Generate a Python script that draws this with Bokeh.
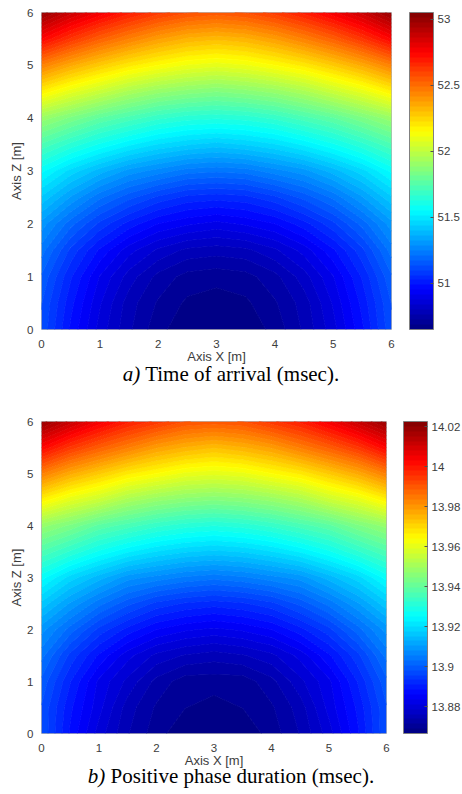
import numpy as np
from bokeh.plotting import figure
from bokeh.models import Range1d, FixedTicker, ColorBar, LinearColorMapper, Div
from bokeh.layouts import column
from bokeh.embed import file_html
from bokeh.resources import INLINE

# grid nodes (m)
x_nodes = [0.0, 0.5, 1.0, 1.5, 2.0, 2.5, 3.0, 3.5, 4.0, 4.5, 5.0, 5.5, 6.0]
z_nodes = [0.0, 0.5, 1.0, 1.5, 2.0, 2.5, 3.0, 3.5, 4.0, 4.5, 5.0, 5.5, 6.0]

# a) time of arrival (msec), rows: z = 0 .. 6
toa = [
    [51.13, 50.98, 50.86, 50.77, 50.70, 50.66, 50.65, 50.66, 50.70, 50.77, 50.86, 50.98, 51.13],
    [51.14, 51.00, 50.88, 50.78, 50.72, 50.68, 50.67, 50.68, 50.72, 50.78, 50.88, 51.00, 51.14],
    [51.17, 51.03, 50.91, 50.82, 50.75, 50.71, 50.70, 50.71, 50.75, 50.82, 50.91, 51.03, 51.17],
    [51.23, 51.09, 50.98, 50.89, 50.83, 50.79, 50.78, 50.79, 50.83, 50.89, 50.98, 51.09, 51.23],
    [51.31, 51.19, 51.09, 51.01, 50.95, 50.92, 50.90, 50.92, 50.95, 51.01, 51.09, 51.19, 51.31],
    [51.43, 51.32, 51.22, 51.15, 51.09, 51.05, 51.04, 51.05, 51.09, 51.15, 51.22, 51.32, 51.43],
    [51.56, 51.46, 51.38, 51.31, 51.27, 51.23, 51.22, 51.23, 51.27, 51.31, 51.38, 51.46, 51.56],
    [51.73, 51.65, 51.58, 51.52, 51.47, 51.44, 51.42, 51.44, 51.47, 51.52, 51.58, 51.65, 51.73],
    [51.91, 51.84, 51.77, 51.72, 51.67, 51.64, 51.63, 51.64, 51.67, 51.72, 51.77, 51.84, 51.91],
    [52.18, 52.09, 52.02, 51.95, 51.90, 51.87, 51.85, 51.87, 51.90, 51.95, 52.02, 52.09, 52.18],
    [52.45, 52.35, 52.27, 52.20, 52.15, 52.11, 52.09, 52.11, 52.15, 52.20, 52.27, 52.35, 52.45],
    [52.75, 52.63, 52.53, 52.45, 52.38, 52.33, 52.31, 52.33, 52.38, 52.45, 52.53, 52.63, 52.75],
    [53.00, 52.88, 52.78, 52.69, 52.62, 52.57, 52.55, 52.57, 52.62, 52.69, 52.78, 52.88, 53.00],
]

# b) positive phase duration (msec), rows: z = 0 .. 6
ppd = [
    [13.898, 13.888, 13.880, 13.874, 13.870, 13.867, 13.867, 13.867, 13.870, 13.874, 13.880, 13.888, 13.898],
    [13.898, 13.889, 13.882, 13.875, 13.871, 13.869, 13.868, 13.869, 13.871, 13.875, 13.882, 13.889, 13.898],
    [13.900, 13.891, 13.883, 13.878, 13.873, 13.870, 13.870, 13.870, 13.873, 13.878, 13.883, 13.891, 13.900],
    [13.904, 13.895, 13.888, 13.882, 13.878, 13.876, 13.875, 13.876, 13.878, 13.882, 13.888, 13.895, 13.904],
    [13.909, 13.902, 13.895, 13.890, 13.886, 13.884, 13.883, 13.884, 13.886, 13.890, 13.895, 13.902, 13.909],
    [13.917, 13.910, 13.904, 13.899, 13.895, 13.893, 13.892, 13.893, 13.895, 13.899, 13.904, 13.910, 13.917],
    [13.926, 13.919, 13.914, 13.909, 13.907, 13.905, 13.904, 13.905, 13.907, 13.909, 13.914, 13.919, 13.926],
    [13.937, 13.932, 13.927, 13.923, 13.920, 13.918, 13.917, 13.918, 13.920, 13.923, 13.927, 13.932, 13.937],
    [13.948, 13.944, 13.939, 13.936, 13.933, 13.931, 13.930, 13.931, 13.933, 13.936, 13.939, 13.944, 13.948],
    [13.966, 13.960, 13.956, 13.951, 13.948, 13.946, 13.945, 13.946, 13.948, 13.951, 13.956, 13.960, 13.966],
    [13.984, 13.977, 13.972, 13.967, 13.964, 13.961, 13.960, 13.961, 13.964, 13.967, 13.972, 13.977, 13.984],
    [14.003, 13.995, 13.989, 13.984, 13.979, 13.976, 13.974, 13.976, 13.979, 13.984, 13.989, 13.995, 14.003],
    [14.019, 14.012, 14.005, 13.999, 13.995, 13.991, 13.990, 13.991, 13.995, 13.999, 14.005, 14.012, 14.019],
]

toa_range = [50.65, 53.05]
ppd_range = [13.8665, 14.0225]
toa_ticks = [51.0, 51.5, 52.0, 52.5, 53.0]
toa_tick_labels = ["51", "51.5", "52", "52.5", "53"]
ppd_ticks = [13.88, 13.9, 13.92, 13.94, 13.96, 13.98, 14.0, 14.02]
ppd_tick_labels = ["13.88", "13.9", "13.92", "13.94", "13.96", "13.98", "14", "14.02"]
axis_ticks = [0, 1, 2, 3, 4, 5, 6]
caption_a = ("a)", "Time of arrival (msec).")
caption_b = ("b)", "Positive phase duration (msec).")


def jet_at(t):
    def c(v):
        return int(round(255 * min(max(v, 0.0), 1.0)))
    r = 1.5 - abs(4 * t - 3)
    g = 1.5 - abs(4 * t - 2)
    b = 1.5 - abs(4 * t - 1)
    return "#%02x%02x%02x" % (c(r), c(g), c(b))


N = 64
band_colors = [jet_at((i + 0.5) / N) for i in range(N)]
edge_colors = [jet_at(i / N) for i in range(N + 1)]

TXT = "#3c3c3c"
W = 462
LEFT = 41


def make_panel(values, vrange, cticks, clabels, frame_w, frame_h, top, bottom, bar_dx):
    p = figure(frame_width=frame_w, frame_height=frame_h,
               x_range=Range1d(0, 6), y_range=Range1d(0, 6),
               output_backend="svg", toolbar_location=None,
               min_border_left=LEFT, min_border_top=top,
               min_border_right=W - LEFT - frame_w, min_border_bottom=bottom)
    levels = list(np.linspace(vrange[0], vrange[1], N + 1))
    p.contour(x_nodes, z_nodes, np.array(values), levels,
              fill_color=band_colors, line_color=edge_colors, line_width=1.0)
    p.xgrid.visible = False
    p.ygrid.visible = False
    p.outline_line_color = "#b4b4b4"
    for ax in (p.xaxis[0], p.yaxis[0]):
        ax.ticker = FixedTicker(ticks=axis_ticks)
        ax.major_tick_in = 0
        ax.major_tick_out = 0
        ax.minor_tick_in = 0
        ax.minor_tick_out = 0
        ax.axis_line_color = None
        ax.major_label_text_font = "Liberation Sans"
        ax.major_label_text_font_size = "11.5px"
        ax.major_label_text_color = TXT
        ax.axis_label_text_font = "Liberation Sans"
        ax.axis_label_text_font_size = "13px"
        ax.axis_label_text_font_style = "normal"
        ax.axis_label_text_color = TXT
    p.xaxis.axis_label = "Axis X [m]"
    p.yaxis.axis_label = "Axis Z [m]"
    p.xaxis.major_label_standoff = 10
    p.xaxis.axis_label_standoff = -2
    p.yaxis.major_label_standoff = 8
    p.yaxis.axis_label_standoff = 0

    mapper = LinearColorMapper(palette=band_colors, low=vrange[0], high=vrange[1])
    cb = ColorBar(color_mapper=mapper, location=(bar_dx, 0), width=24, height=frame_h,
                  padding=0, margin=0,
                  ticker=FixedTicker(ticks=cticks),
                  major_label_overrides=dict(zip(cticks, clabels)),
                  major_label_text_font="Liberation Sans",
                  major_label_text_font_size="11.5px",
                  major_label_text_color=TXT,
                  label_standoff=4,
                  major_tick_line_color="#505050", major_tick_in=3, major_tick_out=0,
                  minor_tick_line_color=None,
                  bar_line_color="#808080",
                  background_fill_alpha=0, border_line_color=None)
    p.add_layout(cb)
    return p


def make_caption(cap, height, line_height):
    html = ('<div style="font-family:\'Liberation Serif\',\'Times New Roman\',serif;'
            'font-size:21px;line-height:%dpx;text-align:center;color:#000;'
            'white-space:nowrap;width:%dpx;"><i>%s</i> %s</div>'
            % (line_height, W, cap[0], cap[1]))
    return Div(text=html, width=W, height=height, margin=0)


pa = make_panel(toa, toa_range, toa_ticks, toa_tick_labels, 350, 317, 12, 38, 368)
cap_a = make_caption(caption_a, 46, 14)
pb = make_panel(ppd, ppd_range, ppd_ticks, ppd_tick_labels, 345, 312, 8, 38, 362)
cap_b = make_caption(caption_b, 23, 10)

layout = column(pa, cap_a, pb, cap_b, spacing=0)
open("out.html", "w").write(file_html(layout, INLINE))
